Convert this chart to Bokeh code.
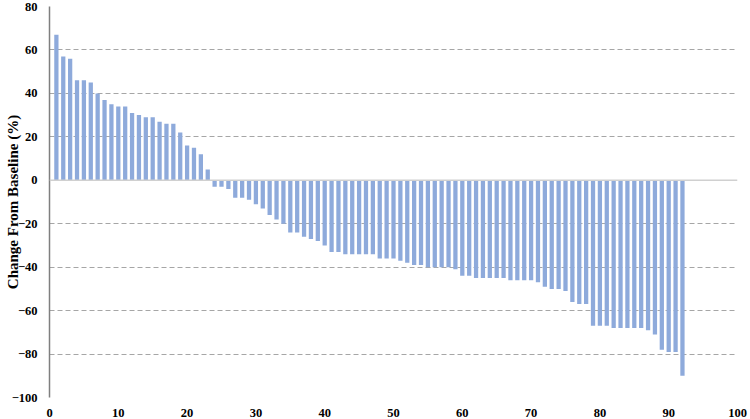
from bokeh.plotting import figure
from bokeh.models import ColumnDataSource, Range1d, Span, FixedTicker
from bokeh.embed import file_html
from bokeh.resources import INLINE

patients = list(range(1, 93))
change = [67, 57, 56, 46, 46, 45, 40, 37, 35, 34, 34, 31, 30, 29, 29, 27, 26, 26, 22, 16,
          15, 12, 5, -3, -3, -4, -8, -8, -9, -11, -13, -16, -18, -20, -24, -24, -26, -27, -28, -30,
          -33, -33, -34, -34, -34, -34, -34, -36, -36, -36, -37, -38, -39, -39, -40, -40, -40, -40, -41, -44,
          -44, -45, -45, -45, -45, -45, -46, -46, -46, -46, -47, -49, -50, -50, -51, -56, -57, -57, -67, -67,
          -67, -68, -68, -68, -68, -68, -69, -71, -78, -79, -79, -90]
x_ticks = [0, 10, 20, 30, 40, 50, 60, 70, 80, 90, 100]
y_ticks = [-100, -80, -60, -40, -20, 0, 20, 40, 60, 80]
y_title = "Change From Baseline (%)"

FONT = "Liberation Serif"

p = figure(width=750, height=419, output_backend="svg", toolbar_location=None,
           x_range=Range1d(0, 100), y_range=Range1d(-100, 80),
           min_border_top=6, min_border_right=13, min_border_left=49, min_border_bottom=10)
p.outline_line_color = None
p.background_fill_color = "white"

src = ColumnDataSource(dict(x=patients, top=change))
p.vbar(x="x", top="top", bottom=0, width=0.62, source=src,
       fill_color="#8eaadb", line_color=None)

p.xgrid.grid_line_color = None
p.ygrid.grid_line_color = "#a6a6a6"
p.ygrid.grid_line_dash = "5 3"
p.ygrid.grid_line_width = 1
p.ygrid.ticker = FixedTicker(ticks=[t for t in y_ticks if t != 0])

p.add_layout(Span(location=0, dimension="width", line_color="#d0d0d0", line_width=1.5))

p.xaxis.ticker = FixedTicker(ticks=x_ticks)
p.yaxis.ticker = FixedTicker(ticks=y_ticks)
for ax in (p.xaxis[0], p.yaxis[0]):
    ax.major_tick_line_color = None
    ax.minor_tick_line_color = None
    ax.major_tick_out = 0
    ax.major_tick_in = 0
    ax.minor_tick_out = 0
    ax.major_label_text_font = FONT
    ax.major_label_text_font_style = "bold"
    ax.major_label_text_font_size = "12.5px"
    ax.major_label_text_color = "black"

p.xaxis.axis_line_color = None
p.xaxis.major_label_standoff = 11
p.yaxis.axis_line_color = "#7f7f7f"
p.yaxis.axis_line_width = 1.5
p.yaxis.major_label_standoff = 12
p.yaxis.axis_label = y_title
p.yaxis.axis_label_text_font = FONT
p.yaxis.axis_label_text_font_style = "bold"
p.yaxis.axis_label_text_font_size = "15px"
p.yaxis.axis_label_text_color = "black"
p.yaxis.axis_label_standoff = -12

open("out.html", "w").write(file_html(p, INLINE))
